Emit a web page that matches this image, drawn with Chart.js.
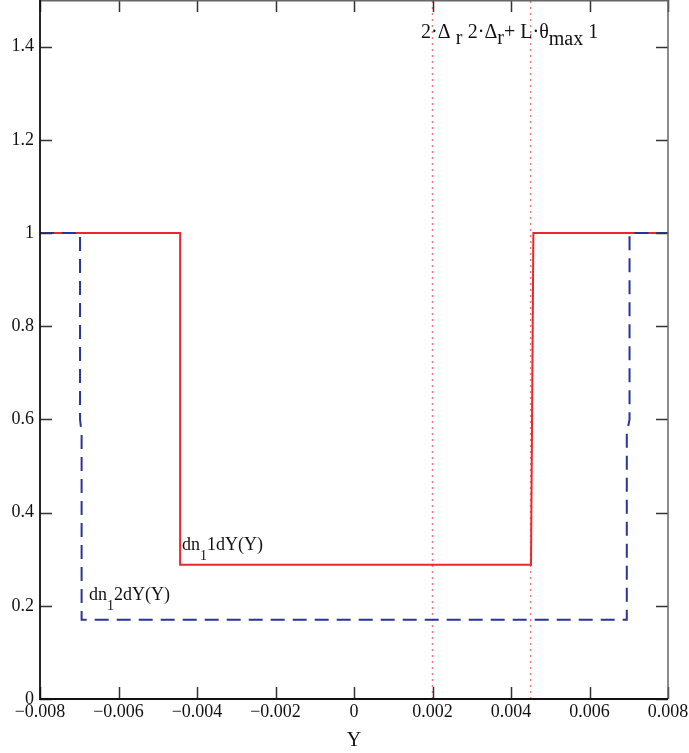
<!DOCTYPE html>
<html>
<head>
<meta charset="utf-8">
<script src="https://cdn.jsdelivr.net/npm/chart.js@4"></script>
<style>
  body { margin: 0; background: #fff; }
  canvas { display: block; }
</style>
</head>
<body>
<canvas id="chart" width="689" height="753"></canvas>
<script>
// data
const redX  = [-0.008, -0.00443, -0.00443, 0.00451, 0.00457, 0.008];
const redY  = [1, 1, 0.288, 0.288, 1, 1];
const blueX = [-0.008, -0.00698, -0.00698, -0.00694, -0.00694, 0.00695, 0.00695, 0.00702, 0.00702, 0.008];
const blueY = [1, 1, 0.60, 0.57, 0.17, 0.17, 0.57, 0.60, 1, 1];
const markerX = [0.002, 0.0045];
const xTicks = [-0.008, -0.006, -0.004, -0.002, 0, 0.002, 0.004, 0.006, 0.008];
const yTicks = [0, 0.2, 0.4, 0.6, 0.8, 1, 1.2, 1.4];

const serif = '"Liberation Serif", "DejaVu Serif", serif';
const red = 'rgb(236,38,42)';
const blue = 'rgb(42,52,150)';

const toPts = (xs, ys) => xs.map((x, i) => ({ x: x, y: ys[i] }));

// text labels: segments are [text, baseline shift, font size]
const labels = [
    { x: 0.00171, y: 1.419, segs: [['2·Δ', 0, 20], [' r', 6, 20]] },
    { x: 0.0029, y: 1.419, segs: [['2·Δ', 0, 20], ['r', 6, 20], ['+ L·θ', 0, 20], ['max', 7, 20], [' 1', 0, 20]] },
    { x: -0.00438, y: 0.32, segs: [['dn', 0, 18], ['1', 10, 14], ['1dY(Y)', 0, 18]] },
    { x: -0.00675, y: 0.2126, segs: [['dn', 0, 18], ['1', 10, 14], ['2dY(Y)', 0, 18]] }
];

const framePlugin = {
    id: 'frame',
    afterDraw(chart) {
        const ctx = chart.ctx;
        const a = chart.chartArea;
        const xs = chart.scales.x, ys = chart.scales.y;
        ctx.save();
        // inward ticks on all four sides
        ctx.strokeStyle = '#333';
        ctx.lineWidth = 1.5;
        const len = 12;
        xTicks.forEach(v => {
            const px = Math.round(xs.getPixelForValue(v)) + 0.5;
            ctx.beginPath();
            ctx.moveTo(px, a.bottom); ctx.lineTo(px, a.bottom - len);
            ctx.moveTo(px, a.top); ctx.lineTo(px, a.top + len);
            ctx.stroke();
        });
        yTicks.forEach(v => {
            const py = Math.round(ys.getPixelForValue(v)) + 0.5;
            ctx.beginPath();
            ctx.moveTo(a.left, py); ctx.lineTo(a.left + len, py);
            ctx.moveTo(a.right, py); ctx.lineTo(a.right - len, py);
            ctx.stroke();
        });
        // frame
        ctx.strokeStyle = '#666';
        ctx.lineWidth = 1.5;
        ctx.beginPath();
        ctx.moveTo(a.left, a.top + 0.75); ctx.lineTo(a.right, a.top + 0.75);
        ctx.moveTo(a.right, a.top); ctx.lineTo(a.right, a.bottom);
        ctx.stroke();
        ctx.strokeStyle = '#111';
        ctx.lineWidth = 1.8;
        ctx.beginPath();
        ctx.moveTo(a.left, a.top); ctx.lineTo(a.left, a.bottom); ctx.lineTo(a.right, a.bottom);
        ctx.stroke();

        // annotation text
        ctx.fillStyle = '#111';
        ctx.textBaseline = 'alphabetic';
        ctx.textAlign = 'left';
        labels.forEach(l => {
            let px = xs.getPixelForValue(l.x);
            const py = ys.getPixelForValue(l.y);
            l.segs.forEach(s => {
                ctx.font = s[2] + 'px ' + serif;
                ctx.fillText(s[0], px, py + s[1]);
                px += ctx.measureText(s[0]).width;
            });
        });
        ctx.restore();
    }
};

const markerSets = markerX.map(v => ({
    data: [{ x: v, y: 0 }, { x: v, y: 1.5 }],
    borderColor: 'rgb(242,120,120)',
    borderWidth: 1.5,
    borderDash: [2, 4],
    showLine: true,
    pointRadius: 0,
    order: 3
}));

new Chart(document.getElementById('chart'), {
    type: 'scatter',
    data: {
        datasets: [
            {
                label: 'dn1 2dY(Y)',
                data: toPts(blueX, blueY),
                borderColor: blue,
                borderWidth: 2,
                borderDash: [14, 8],
                showLine: true,
                pointRadius: 0,
                order: 1
            },
            {
                label: 'dn1 1dY(Y)',
                data: toPts(redX, redY),
                borderColor: red,
                borderWidth: 2,
                showLine: true,
                pointRadius: 0,
                order: 2
            },
            ...markerSets
        ]
    },
    options: {
        responsive: false,
        animation: false,
        layout: { autoPadding: false, padding: { top: 0, right: 21, left: 0, bottom: 0 } },
        plugins: {
            legend: { display: false },
            tooltip: { enabled: false }
        },
        scales: {
            x: {
                type: 'linear',
                min: -0.008,
                max: 0.008,
                afterBuildTicks: s => { s.ticks = xTicks.map(v => ({ value: v })); },
                afterFit: s => {
                    s.height = 54;
                    s.paddingLeft = 0; s.paddingRight = 0; s.paddingTop = 0; s.paddingBottom = 0;
                },
                grid: { display: false, drawTicks: false },
                border: { display: false },
                ticks: {
                    padding: 2,
                    maxRotation: 0,
                    autoSkip: false,
                    color: '#111',
                    font: { family: serif, size: 18 },
                    callback: v => v === 0 ? '0' : (v < 0 ? '\u2212' : '') + Math.abs(v).toFixed(3)
                },
                title: {
                    display: true,
                    text: 'Y',
                    color: '#111',
                    font: { family: serif, size: 20 },
                    padding: { top: 8, bottom: 0 }
                }
            },
            y: {
                type: 'linear',
                min: 0,
                max: 1.5,
                afterBuildTicks: s => { s.ticks = yTicks.map(v => ({ value: v })); },
                afterFit: s => {
                    s.width = 40;
                    s.paddingLeft = 0; s.paddingRight = 0; s.paddingTop = 0; s.paddingBottom = 0;
                },
                grid: { display: false, drawTicks: false },
                border: { display: false },
                ticks: {
                    padding: 6,
                    color: '#111',
                    font: { family: serif, size: 18 },
                    callback: v => String(Math.round(v * 10) / 10)
                }
            }
        }
    },
    plugins: [framePlugin]
});
</script>
</body>
</html>
